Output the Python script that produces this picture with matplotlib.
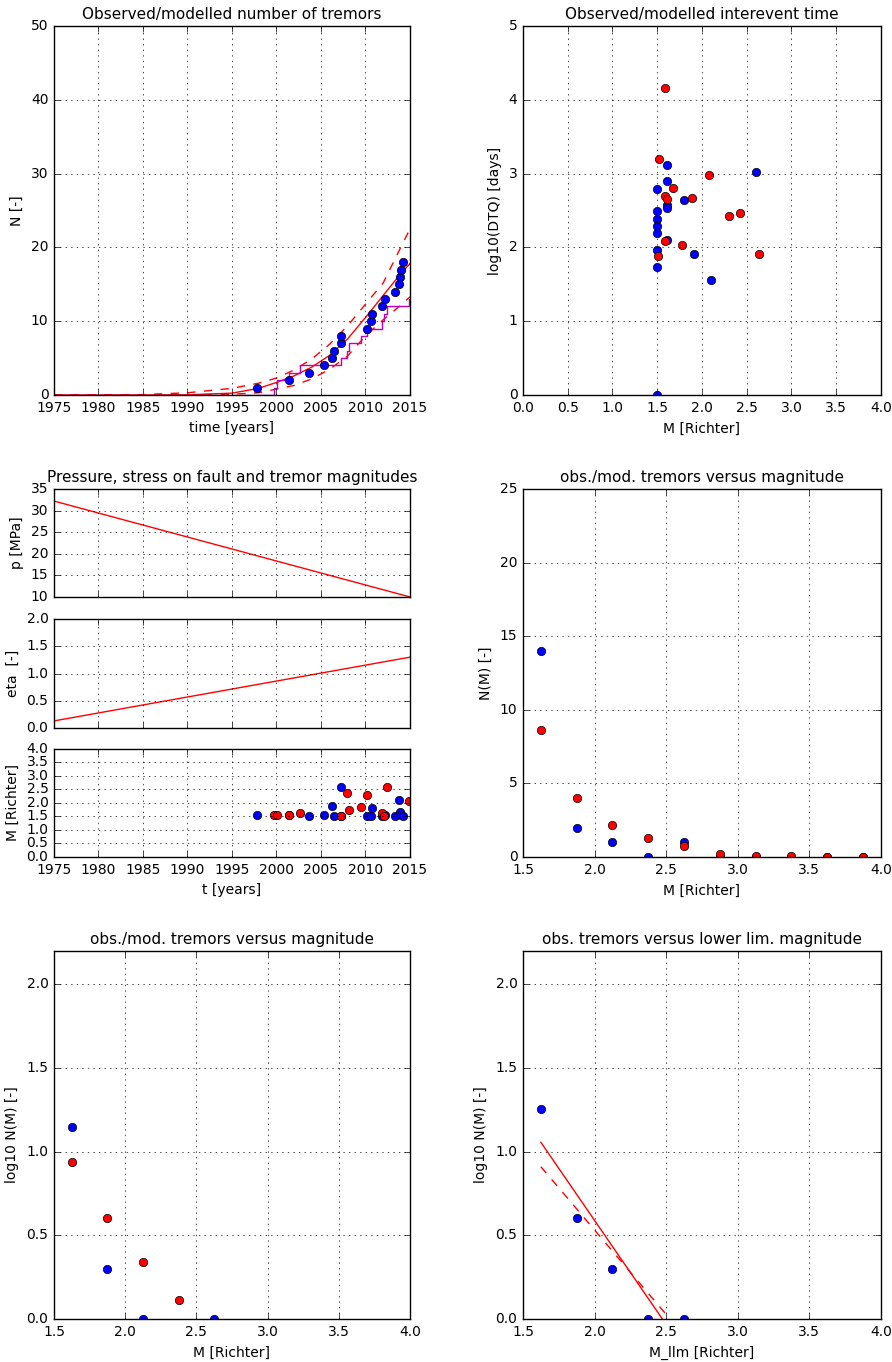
import numpy as np
import matplotlib
matplotlib.use('Agg')
import matplotlib.pyplot as plt

plt.style.use('classic')
plt.rcParams['figure.facecolor'] = 'white'
plt.rcParams['savefig.facecolor'] = 'white'
plt.rcParams['font.size'] = 10
plt.rcParams['axes.titlesize'] = 11
plt.rcParams['axes.labelsize'] = 10
plt.rcParams['xtick.labelsize'] = 10
plt.rcParams['ytick.labelsize'] = 10
plt.rcParams['axes.formatter.useoffset'] = False
plt.rcParams['lines.markersize'] = 6
plt.rcParams['lines.markeredgewidth'] = 0.5

'''observed tremors (cumulative number)'''
t_obs = [1997.8, 2001.4, 2003.6, 2005.3, 2006.2, 2006.5, 2007.2, 2007.3, 2010.2,
         2010.6, 2010.7, 2011.9, 2012.2, 2013.3, 2013.8, 2013.9, 2013.95, 2014.2]
N_obs = list(range(1, 19))
M_obs_t = [1.55, 1.55, 1.5, 1.55, 1.9, 1.5, 2.6, 1.5, 1.5,
           1.5, 1.8, 1.5, 1.55, 1.5, 2.1, 1.68, 1.55, 1.5]

'''modelled tremors'''
t_mod = [1999.7, 2000.1, 2001.4, 2002.7, 2007.2, 2007.9, 2008.2, 2009.5, 2010.2,
         2011.9, 2012.1, 2012.4, 2014.9]
M_mod_t = [1.56, 1.56, 1.56, 1.63, 1.5, 2.38, 1.75, 1.86, 2.29, 1.64, 1.5, 2.6, 2.07]

'''expected number of tremors with bounds'''
t_curve = [1975, 1985, 1990, 1995, 1998, 2000, 2002, 2004, 2006, 2008, 2010, 2012, 2014, 2015]
N_mid = [0, 0, 0.02, 0.25, 0.9, 1.7, 2.6, 3.8, 5.4, 7.6, 10.5, 13.5, 16.5, 17.8]
N_up = [0, 0.05, 0.3, 0.9, 1.6, 2.3, 3.4, 4.9, 6.9, 9.4, 12.3, 15.2, 20.1, 22.5]
N_low = [0, 0, 0.02, 0.1, 0.3, 0.8, 1.3, 2.2, 3.5, 5.3, 8.0, 10.2, 12.2, 13.3]

'''interevent times'''
M_dt_obs = [1.61, 2.60, 1.61, 1.50, 1.80, 1.61, 1.61, 1.50, 1.50, 1.50, 1.50,
            1.61, 1.50, 1.91, 1.50, 2.10, 1.50]
dt_obs = [3.11, 3.02, 2.90, 2.79, 2.64, 2.58, 2.53, 2.49, 2.39, 2.29, 2.20,
          2.10, 1.96, 1.91, 1.74, 1.56, 0.0]
M_dt_mod = [1.59, 1.52, 2.08, 1.68, 1.59, 1.61, 1.89, 2.42, 2.30, 1.59, 1.78, 1.51, 2.64]
dt_mod = [4.16, 3.20, 2.98, 2.80, 2.70, 2.66, 2.67, 2.46, 2.42, 2.09, 2.03, 1.88, 1.91]

'''pressure and stress'''
t_field = [1975, 2015]
p_field = [32.2, 10.0]
eta_field = [0.13, 1.30]

'''magnitude distribution'''
M_bins = [1.625, 1.875, 2.125, 2.375, 2.625, 2.875, 3.125, 3.375, 3.625, 3.875]
NM_obs = [14, 2, 1, 0, 1, 0, 0, 0, 0, 0]
NM_mod = [8.65, 4.0, 2.2, 1.3, 0.77, 0.2, 0.05, 0.04, 0.02, 0.01]
logNM_obs = [1.146, 0.301, 0.0, None, 0.0, None, None, None, None, None]
logNM_mod = [0.937, 0.602, 0.342, 0.114, -0.11, -0.7, -1.3, -1.4, -1.7, -2.0]

'''cumulative (lower limit magnitude)'''
logNc_obs = [1.255, 0.602, 0.301, 0.0, 0.0]
M_fit = [1.625, 3.875]
fit_solid = [1.056, -1.745]
fit_dashed = [0.910, -1.360]

fig = plt.figure(figsize=(8.92, 13.62), dpi=100)

# top left
ax = fig.add_axes([0.0605, 0.7100, 0.3991, 0.2709])
ax.plot(t_curve, N_mid, 'r-')
ax.plot(t_curve, N_up, 'r--')
ax.plot(t_curve, N_low, 'r--')
ax.step([1975] + t_mod + [2015], [0] + list(range(1, len(t_mod) + 1)) + [len(t_mod)],
        where='post', color='m')
ax.plot(t_obs, N_obs, 'bo')
ax.set_xlim(1975, 2015)
ax.set_ylim(0, 50)
ax.set_xlabel('time [years]')
ax.set_ylabel('N [-]')
ax.set_title('Observed/modelled number of tremors')
ax.grid(True)

# top right
ax = fig.add_axes([0.5863, 0.7100, 0.4013, 0.2709])
ax.plot(M_dt_obs, dt_obs, 'bo')
ax.plot(M_dt_mod, dt_mod, 'ro')
ax.set_xlim(0, 4)
ax.set_ylim(0, 5)
ax.set_xlabel('M [Richter]')
ax.set_ylabel('log10(DTQ) [days]')
ax.set_title('Observed/modelled interevent time')
ax.grid(True)

# middle left, three panels
ax1 = fig.add_axes([0.0605, 0.5617, 0.3991, 0.0793])
ax1.plot(t_field, p_field, 'r-')
ax1.set_xlim(1975, 2015)
ax1.set_ylim(10, 35)
ax1.set_ylabel('p [MPa]')
ax1.set_title('Pressure, stress on fault and tremor magnitudes')
ax1.set_xticklabels([])
ax1.grid(True)

ax2 = fig.add_axes([0.0605, 0.4655, 0.3991, 0.0800])
ax2.plot(t_field, eta_field, 'r-')
ax2.set_xlim(1975, 2015)
ax2.set_ylim(0, 2)
ax2.set_yticks(np.arange(0, 2.01, 0.5))
ax2.set_ylabel('eta  [-]')
ax2.set_xticklabels([])
ax2.grid(True)

ax3 = fig.add_axes([0.0605, 0.3708, 0.3991, 0.0793])
ax3.plot(t_obs, M_obs_t, 'bo')
ax3.plot(t_mod, M_mod_t, 'ro')
ax3.set_xlim(1975, 2015)
ax3.set_ylim(0, 4)
ax3.set_yticks(np.arange(0, 4.01, 0.5))
ax3.set_xlabel('t [years]')
ax3.set_ylabel('M [Richter]')
ax3.grid(True)

# middle right
ax = fig.add_axes([0.5863, 0.3708, 0.4013, 0.2702])
ax.plot(M_bins, NM_obs, 'bo')
ax.plot(M_bins, NM_mod, 'ro')
ax.set_xlim(1.5, 4)
ax.set_ylim(0, 25)
ax.set_xlabel('M [Richter]')
ax.set_ylabel('N(M) [-]')
ax.set_title('obs./mod. tremors versus magnitude')
ax.grid(True)

# bottom left
ax = fig.add_axes([0.0605, 0.0316, 0.3991, 0.2702])
lo = np.array(logNM_obs, dtype=float)
ax.plot(M_bins, lo, 'bo')
ax.plot(M_bins, logNM_mod, 'ro')
ax.set_xlim(1.5, 4)
ax.set_ylim(0, 2.2)
ax.set_yticks(np.arange(0, 2.01, 0.5))
ax.set_xlabel('M [Richter]')
ax.set_ylabel('log10 N(M) [-]')
ax.set_title('obs./mod. tremors versus magnitude')
ax.grid(True)

# bottom right
ax = fig.add_axes([0.5863, 0.0316, 0.4013, 0.2702])
ax.plot(M_bins[:5], logNc_obs, 'bo')
ax.plot(M_fit, fit_solid, 'r-')
ax.plot(M_fit, fit_dashed, 'r--')
ax.set_xlim(1.5, 4)
ax.set_ylim(0, 2.2)
ax.set_yticks(np.arange(0, 2.01, 0.5))
ax.set_xlabel('M_llm [Richter]')
ax.set_ylabel('log10 N(M) [-]')
ax.set_title('obs. tremors versus lower lim. magnitude')
ax.grid(True)

fig.savefig('out.png', dpi=100)
